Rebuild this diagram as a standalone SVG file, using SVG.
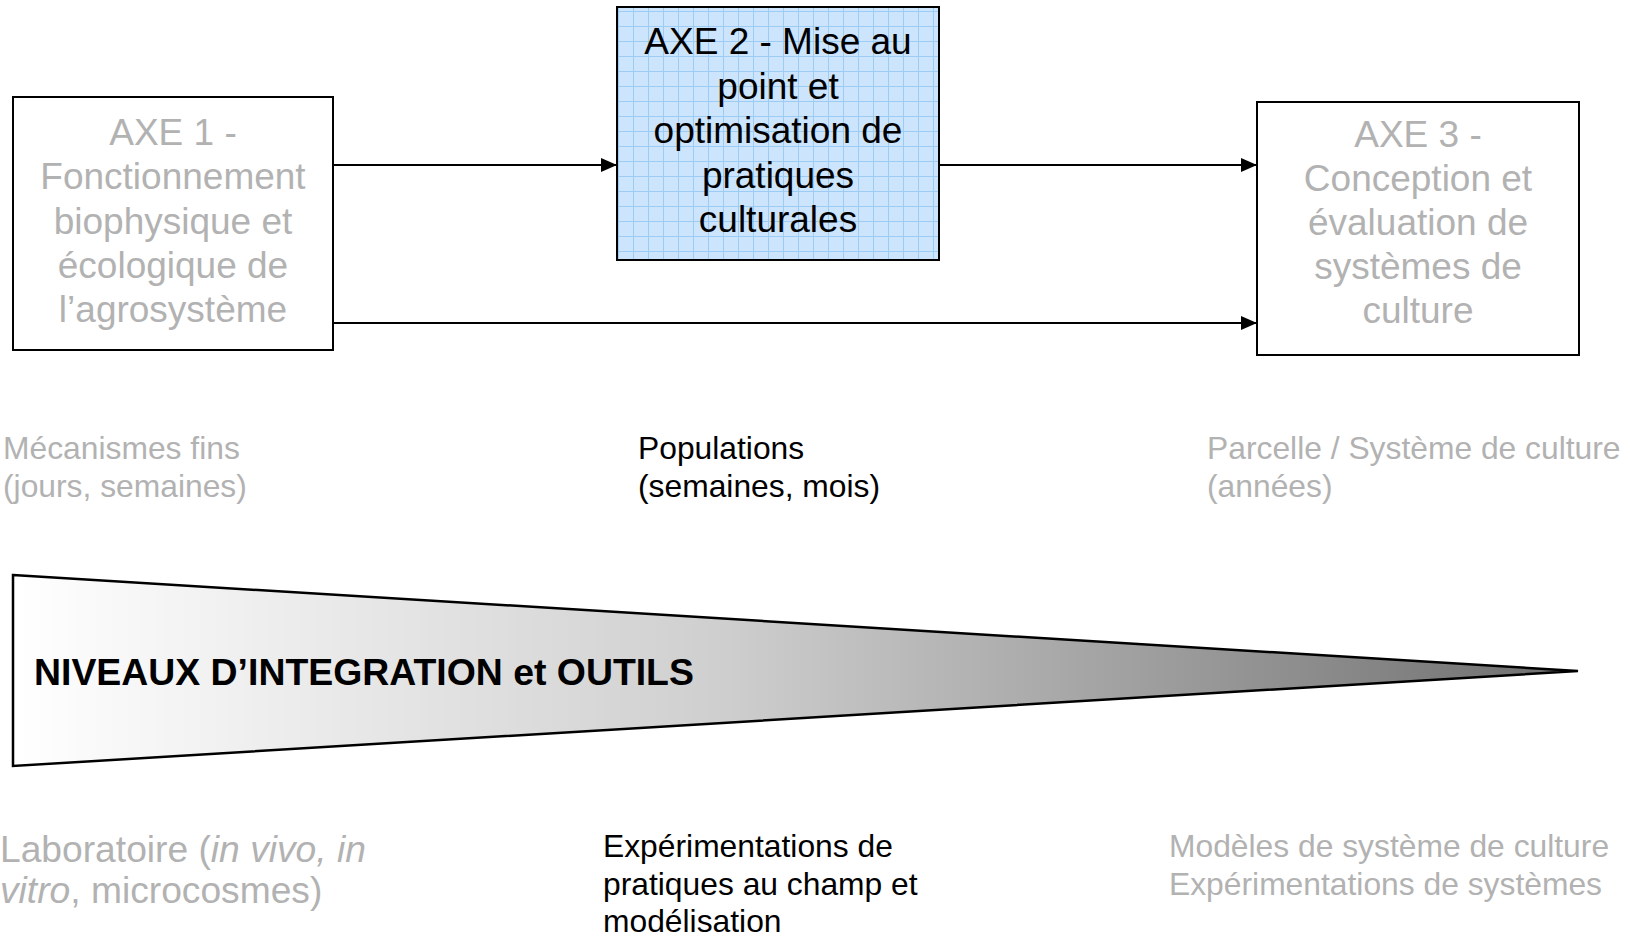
<svg xmlns="http://www.w3.org/2000/svg" width="1630" height="937" viewBox="0 0 1630 937">
<style>
.box{fill:#ffffff;stroke:#000;stroke-width:2}
.axe{font-family:"Liberation Sans",Arial,sans-serif;font-size:37px;text-anchor:middle}
.gray{fill:#b2b2b2}
.blk{fill:#000}
.lbl{font-family:"Liberation Sans",Arial,sans-serif;font-size:31.8px}
.lbl2{font-family:"Liberation Sans",Arial,sans-serif;font-size:37.2px}
.conn{stroke:#000;stroke-width:2;fill:none;marker-end:url(#arr)}
</style>
<defs>
<marker id="arr" markerWidth="16" markerHeight="14" refX="16" refY="7" orient="auto" markerUnits="userSpaceOnUse">
<path d="M0,0 L16,7 L0,14 Z" fill="#000"/>
</marker>
<pattern id="grid" x="618" y="11" width="15" height="15" patternUnits="userSpaceOnUse">
<rect width="15" height="15" fill="#cce4fc"/>
<path d="M0,0.5 H15 M0.5,0 V15" stroke="#9ccbf4" stroke-width="1" fill="none"/>
</pattern>
<linearGradient id="wedge" x1="13" y1="0" x2="1578" y2="0" gradientUnits="userSpaceOnUse">
<stop offset="0" stop-color="#ffffff"/>
<stop offset="0.45" stop-color="#cfcfcf"/>
<stop offset="1" stop-color="#6e6e6e"/>
</linearGradient>
</defs>

<g id="connectors">
<line class="conn" x1="333" y1="165" x2="617" y2="165"/>
<line class="conn" x1="939" y1="165" x2="1257" y2="165"/>
<line class="conn" x1="333" y1="323" x2="1257" y2="323"/>
</g>

<g id="axe1">
<rect class="box" x="13" y="97" width="320" height="253"/>
<text class="axe gray" x="173" y="145">AXE 1 -</text>
<text class="axe gray" x="173" y="189">Fonctionnement</text>
<text class="axe gray" x="173" y="234">biophysique et</text>
<text class="axe gray" x="173" y="278">écologique de</text>
<text class="axe gray" x="173" y="322">l’agrosystème</text>
</g>

<g id="axe2">
<rect x="617" y="7" width="322" height="253" fill="url(#grid)" stroke="#000" stroke-width="2"/>
<text class="axe blk" x="778" y="54">AXE 2 - Mise au</text>
<text class="axe blk" x="778" y="98.5">point et</text>
<text class="axe blk" x="778" y="143">optimisation de</text>
<text class="axe blk" x="778" y="187.5">pratiques</text>
<text class="axe blk" x="778" y="232">culturales</text>
</g>

<g id="axe3">
<rect class="box" x="1257" y="102" width="322" height="253"/>
<text class="axe gray" x="1418" y="147">AXE 3 -</text>
<text class="axe gray" x="1418" y="191">Conception et</text>
<text class="axe gray" x="1418" y="235">évaluation de</text>
<text class="axe gray" x="1418" y="279">systèmes de</text>
<text class="axe gray" x="1418" y="323">culture</text>
</g>

<g id="echelles">
<text class="lbl gray" x="3" y="459">Mécanismes fins</text>
<text class="lbl gray" x="3" y="497">(jours, semaines)</text>
<text class="lbl blk" x="638" y="459">Populations</text>
<text class="lbl blk" x="638" y="497">(semaines, mois)</text>
<text class="lbl gray" x="1207" y="459">Parcelle / Système de culture</text>
<text class="lbl gray" x="1207" y="497">(années)</text>
</g>

<g id="niveaux">
<polygon points="13,575 1578,671 13,766" fill="url(#wedge)" stroke="#000" stroke-width="2.5" stroke-linejoin="miter"/>
<text x="34" y="685" font-family="'Liberation Sans',Arial,sans-serif" font-size="37.4" font-weight="bold" fill="#000">NIVEAUX D’INTEGRATION et OUTILS</text>
</g>

<g id="outils">
<text class="lbl2 gray" x="0" y="862">Laboratoire (<tspan font-style="italic">in vivo, in</tspan></text>
<text class="lbl2 gray" x="0" y="903"><tspan font-style="italic">vitro</tspan>, microcosmes)</text>
<text class="lbl blk" x="603" y="857">Expérimentations de</text>
<text class="lbl blk" x="603" y="895">pratiques au champ et</text>
<text class="lbl blk" x="603" y="932">modélisation</text>
<text class="lbl gray" x="1169" y="857">Modèles de système de culture</text>
<text class="lbl gray" x="1169" y="895">Expérimentations de systèmes</text>
</g>
</svg>
